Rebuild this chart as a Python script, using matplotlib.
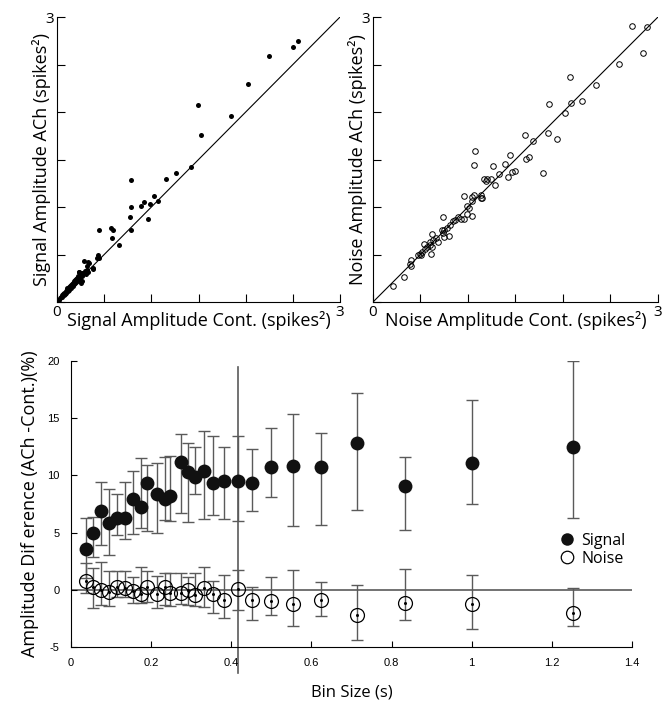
import numpy as np
import matplotlib
matplotlib.use("Agg")
import matplotlib.pyplot as plt

# ---- top left: signal amplitude, ACh vs control (spikes^2)
sig_cont = [2.55, 2.50, 2.25, 2.02, 1.84, 1.49, 1.53, 1.42, 1.26, 1.16, 0.78, 1.03, 1.07,
            0.92, 0.89, 0.99, 0.78, 0.77, 0.96, 0.78, 0.57, 0.59, 0.44, 0.58, 0.66, 0.43,
            0.42, 0.45, 0.38, 0.29, 0.34, 0.32, 0.325, 0.385, 0.23,
            0.02, 0.03, 0.04, 0.05, 0.05, 0.06, 0.07, 0.07, 0.08, 0.08, 0.09, 0.10, 0.10,
            0.11, 0.11, 0.12, 0.12, 0.13, 0.13, 0.14, 0.14, 0.15, 0.15, 0.16, 0.16, 0.17,
            0.17, 0.18, 0.18, 0.19, 0.19, 0.20, 0.20, 0.21, 0.21, 0.22, 0.22, 0.23, 0.24,
            0.24, 0.25, 0.26, 0.26, 0.27, 0.28, 0.29, 0.30, 0.31, 0.32, 0.33, 0.23, 0.25, 0.27]
sig_ach = [2.75, 2.68, 2.59, 2.30, 1.96, 2.07, 1.76, 1.42, 1.36, 1.30, 1.28, 1.12, 1.06,
           1.05, 1.01, 1.03, 1.00, 0.89, 0.87, 0.76, 0.78, 0.76, 0.76, 0.67, 0.60, 0.50,
           0.46, 0.46, 0.35, 0.43, 0.41, 0.38, 0.42, 0.36, 0.32,
           0.02, 0.04, 0.05, 0.05, 0.07, 0.08, 0.07, 0.09, 0.10, 0.08, 0.11, 0.12, 0.10,
           0.13, 0.15, 0.14, 0.12, 0.16, 0.13, 0.17, 0.15, 0.18, 0.15, 0.19, 0.17, 0.20,
           0.17, 0.22, 0.19, 0.23, 0.20, 0.24, 0.21, 0.25, 0.22, 0.27, 0.23, 0.26, 0.28,
           0.25, 0.29, 0.27, 0.31, 0.28, 0.30, 0.31, 0.33, 0.30, 0.34, 0.32, 0.32, 0.20, 0.22]

# ---- top right: noise amplitude, ACh vs control
noi_cont = [2.73, 2.88, 2.84, 2.59, 2.07, 2.35, 2.20, 2.08, 1.85, 2.02, 1.84, 1.94, 1.60,
            1.68, 1.64, 1.61, 1.79, 1.44, 1.39, 1.33, 1.50, 1.46, 1.42, 1.26, 1.28, 1.24,
            1.20, 1.17, 1.19, 1.07, 1.06, 1.14, 1.15, 1.14, 1.06, 1.04, 1.04, 0.96, 0.99,
            1.01, 0.99, 1.04, 0.93, 0.96, 0.89, 0.86, 0.84, 0.81, 0.78, 0.74, 0.75, 0.74,
            0.73, 0.80, 0.75, 0.68, 0.66, 0.63, 0.62, 0.60, 0.62, 0.60, 0.57, 0.54, 0.55,
            0.61, 0.52, 0.49, 0.47, 0.51, 0.40, 0.39, 0.40, 0.33, 0.21]
noi_ach = [2.91, 2.89, 2.62, 2.51, 2.37, 2.28, 2.12, 2.09, 2.08, 1.99, 1.78, 1.72, 1.76,
           1.70, 1.53, 1.51, 1.36, 1.55, 1.45, 1.35, 1.38, 1.37, 1.32, 1.43, 1.23, 1.30,
           1.29, 1.29, 1.27, 1.59, 1.44, 1.13, 1.10, 1.09, 1.13, 1.11, 1.06, 1.12, 1.01,
           0.99, 0.93, 0.91, 0.87, 0.87, 0.90, 0.86, 0.85, 0.81, 0.78, 0.89, 0.76, 0.73,
           0.76, 0.69, 0.68, 0.63, 0.67, 0.65, 0.72, 0.63, 0.58, 0.60, 0.58, 0.61, 0.56,
           0.51, 0.53, 0.51, 0.49, 0.49, 0.44, 0.40, 0.38, 0.26, 0.17]

# ---- bottom: amplitude difference vs bin size
bin_size = [0.037, 0.056, 0.076, 0.096, 0.116, 0.136, 0.154, 0.176, 0.189, 0.214, 0.235,
            0.248, 0.275, 0.292, 0.309, 0.331, 0.354, 0.383, 0.416, 0.452, 0.498, 0.554,
            0.624, 0.714, 0.834, 1.0, 1.252]
signal_mean = [3.6, 5.0, 6.9, 5.8, 6.3, 6.3, 7.9, 7.2, 9.3, 8.4, 7.9, 8.2, 11.2, 10.3, 9.9,
               10.4, 9.3, 9.5, 9.5, 9.3, 10.7, 10.8, 10.7, 12.8, 9.1, 11.1, 12.5]
signal_hi = [6.3, 6.4, 9.4, 8.8, 8.4, 9.4, 10.4, 11.5, 10.9, 11.1, 11.6, 11.7, 13.6, 12.8,
             12.5, 13.9, 13.4, 12.5, 13.4, 12.3, 14.1, 15.4, 13.7, 17.2, 11.6, 16.6, 20.0]
signal_lo = [1.0, 2.9, 3.9, 3.0, 4.8, 4.4, 4.9, 5.4, 5.1, 5.0, 6.1, 6.05, 6.75, 5.9, 8.4,
             6.2, 6.5, 6.2, 6.0, 6.9, 8.1, 5.6, 5.7, 7.0, 5.2, 7.5, 6.3]
noise_mean = [0.81, 0.2, 0.0, -0.23, 0.2, 0.15, -0.1, -0.35, 0.2, -0.35, 0.23, -0.3, -0.3,
              0.0, -0.44, 0.15, -0.38, -0.87, 0.09, -0.87, -1.02, -1.2, -0.87, -2.24,
              -1.17, -1.25, -2.04]
noise_hi = [2.3, 1.9, 2.4, 1.6, 1.6, 1.6, 1.16, 2.0, 1.66, 1.22, 1.5, 1.5, 1.5, 1.1, 1.45,
            1.98, 0.73, 1.25, 1.75, 0.23, 1.1, 1.7, 0.67, 0.44, 1.83, 1.3, 0.15]
noise_lo = [-0.3, -1.6, -1.3, -1.4, -0.6, -0.67, -1.16, -1.16, -1.1, -1.6, -1.3, -1.4, -1.2,
            -1.3, -1.45, -1.5, -2.0, -2.5, -1.75, -2.6, -2.2, -3.2, -2.3, -4.37, -2.6,
            -3.43, -3.2]
cutoff_bin = 0.416

LBL = "Open Sans"
TCK = "Liberation Sans"

fig = plt.figure(figsize=(6.67, 7.06), dpi=100)
ax1 = fig.add_axes([0.0855, 0.5722, 0.4243, 0.4037])
ax2 = fig.add_axes([0.5592, 0.5722, 0.4273, 0.4037])
ax3 = fig.add_axes([0.1064, 0.0836, 0.8411, 0.4051])


def scatter_panel(ax, xs, ys, filled, xlabel, ylabel):
    ax.plot([0, 3], [0, 3], color='black', lw=0.8)
    if filled:
        ax.plot(xs, ys, 'o', ms=3.6, color='black', mew=0)
    else:
        ax.plot(xs, ys, 'o', ms=4, mfc='none', mec='black', mew=0.7)
    ax.set_xlim(0, 3)
    ax.set_ylim(0, 3)
    for s in ['top', 'right']:
        ax.spines[s].set_visible(False)
    for s in ['left', 'bottom']:
        ax.spines[s].set_linewidth(0.8)
    ticks = np.arange(0, 3.01, 0.5)
    ax.set_xticks(ticks)
    ax.set_yticks(ticks)
    ax.set_xticklabels(['0', '', '', '', '', '', '3'], fontfamily=LBL, fontsize=11)
    ax.set_yticklabels(['', '', '', '', '', '', '3'], fontfamily=LBL, fontsize=11)
    ax.tick_params(direction='in', length=6, width=0.8, pad=2)
    ax.set_xlabel(xlabel, fontfamily=LBL, fontsize=13, labelpad=-6)
    ax.set_ylabel(ylabel, fontfamily=LBL, fontsize=13, labelpad=-4)


scatter_panel(ax1, sig_cont, sig_ach, True,
              "Signal Amplitude Cont. (spikes²)", "Signal Amplitude ACh (spikes²)")
scatter_panel(ax2, noi_cont, noi_ach, False,
              "Noise Amplitude Cont. (spikes²)", "Noise Amplitude ACh (spikes²)")

# bottom panel
bx = np.array(bin_size)
sm = np.array(signal_mean)
nm = np.array(noise_mean)
grey = '#5a5a5a'
ax3.axhline(0, color=grey, lw=1.2, zorder=1)
ax3.plot([cutoff_bin, cutoff_bin], [19.5, -7.3], color=grey, lw=1.2, clip_on=False, zorder=1)
ax3.errorbar(bx, sm, yerr=[sm - np.array(signal_lo), np.array(signal_hi) - sm], fmt='none',
             ecolor=grey, elinewidth=1, capsize=4, capthick=1, zorder=2)
ax3.errorbar(bx, nm, yerr=[nm - np.array(noise_lo), np.array(noise_hi) - nm], fmt='none',
             ecolor=grey, elinewidth=1, capsize=4, capthick=1, zorder=2)
ax3.plot(bx, sm, 'o', ms=10, color='#111111', mew=0, zorder=3, label='Signal')
ax3.plot(bx, nm, 'o', ms=10, mfc='none', mec='black', mew=0.9, zorder=3, label='Noise')
ax3.plot(bx, nm, 'o', ms=2.2, color='black', mew=0, zorder=4)

ax3.set_xlim(0, 1.4)
ax3.set_ylim(-5, 20)
ax3.set_xticks(np.arange(0, 1.41, 0.2))
ax3.set_xticklabels(['0', '0.2', '0.4', '0.6', '0.8', '1', '1.2', '1.4'],
                    fontfamily=TCK, fontsize=8)
ax3.set_yticks([-5, 0, 5, 10, 15, 20])
ax3.set_yticklabels(['-5', '0', '5', '10', '15', '20'], fontfamily=TCK, fontsize=8)
ax3.tick_params(direction='in', length=4, width=0.8, pad=8)
for s in ['top', 'right']:
    ax3.spines[s].set_visible(False)
for s in ['left', 'bottom']:
    ax3.spines[s].set_linewidth(0.8)
ax3.set_xlabel("Bin Size (s)", fontfamily=LBL, fontsize=12, labelpad=12)
ax3.set_ylabel("Amplitude Dif erence (ACh -Cont.)(%)", fontfamily=LBL, fontsize=13,
               labelpad=6)
leg = ax3.legend(loc='upper left', bbox_to_anchor=(0.873, 0.40), frameon=False,
                 prop={'family': LBL, 'size': 11.5}, handlelength=0.8,
                 handletextpad=0.5, labelspacing=0.15, borderpad=0, borderaxespad=0,
                 markerscale=0.9)

fig.savefig("out.png", dpi=100)
